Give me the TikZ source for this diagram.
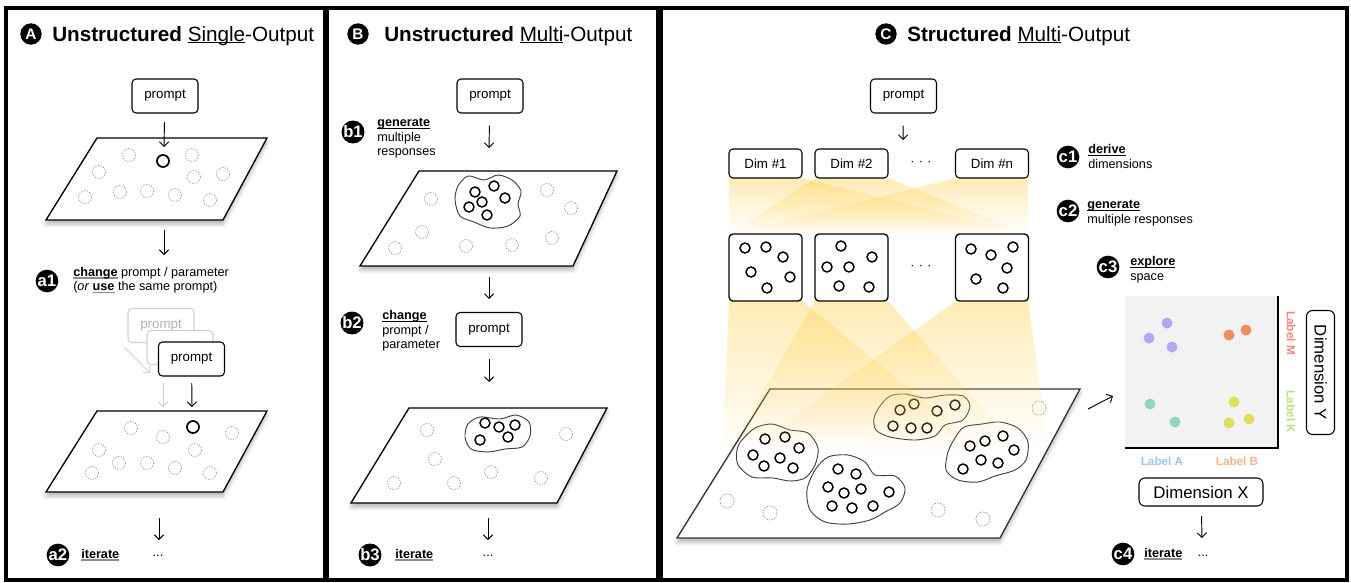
\documentclass[tikz,border=0pt]{standalone}
\usepackage{fontspec}
\setmainfont{Liberation Sans}
\usetikzlibrary{arrows.meta}
\usetikzlibrary{shadows.blur}
\usetikzlibrary{fadings}

\definecolor{beam}{HTML}{FFD45C}
\definecolor{chartbg}{HTML}{F2F2F2}
\definecolor{dotpurple}{HTML}{B5A6F4}
\definecolor{dotorange}{HTML}{EE8D5E}
\definecolor{dotteal}{HTML}{8ED6C3}
\definecolor{dotlime}{HTML}{DCE05B}
\definecolor{labM}{HTML}{F4857E}
\definecolor{labK}{HTML}{B8E07C}
\definecolor{labA}{HTML}{9CC4F0}
\definecolor{labB}{HTML}{F8B48D}

\tikzfading[name=fadedown,top color=transparent!0,bottom color=transparent!100]

\newsavebox{\ulbox}
\newcommand{\ulk}[1]{\sbox{\ulbox}{#1}\rlap{\rule[-1.6pt]{\wd\ulbox}{0.6pt}}\usebox{\ulbox}}
\newcommand{\ulb}[1]{\ulk{\textbf{#1}}}
\newcommand{\ulg}[1]{\sbox{\ulbox}{\textbf{#1}}\rlap{\textcolor{black!45}{\rule[-1.9pt]{\wd\ulbox}{1.1pt}}}\usebox{\ulbox}}

\begin{document}
\begin{tikzpicture}[x=0.75pt,y=-0.75pt]
    \tikzstyle{panel}=[draw=black,line width=2.3pt]
    \tikzstyle{box}=[draw=black,line width=0.8pt,rounded corners=3pt,fill=white,inner sep=0pt,minimum width=49.5pt,minimum height=25.5pt,font=\fontsize{10}{12}\selectfont]
    \tikzstyle{fadebox}=[box,draw=black!18,text=black!30]
    \tikzstyle{dimbox}=[box,minimum width=54.75pt,minimum height=21.75pt]
    \tikzstyle{resbox}=[box,line width=1pt,minimum width=54.75pt,minimum height=50.25pt]
    \tikzstyle{axisbox}=[box,rounded corners=4.5pt,minimum width=93pt,minimum height=21pt,font=\fontsize{12.6}{14}\selectfont]
    \tikzstyle{badge}=[circle,fill=black,text=white,inner sep=0pt,minimum size=17pt,font=\bfseries\fontsize{12.5}{13}\selectfont]
    \tikzstyle{tbadge}=[badge,minimum size=16pt,font=\bfseries\fontsize{11.5}{12}\selectfont]
    \tikzstyle{headline}=[inner sep=0pt,font=\fontsize{15.5}{18}\selectfont]
    \tikzstyle{txt}=[inner sep=0pt,align=left,font=\fontsize{9.5}{10.9}\selectfont]
    \tikzstyle{lab}=[inner sep=0pt,font=\bfseries\fontsize{8.8}{10}\selectfont]
    \tikzstyle{arr}=[draw=black,line width=0.7pt,-{Straight Barb[length=3.5pt,width=7pt]}]
    \tikzstyle{fadearr}=[arr,draw=black!18]
    \tikzstyle{plane}=[draw=black,line width=1pt,fill=white,blur shadow={shadow xshift=0pt,shadow yshift=-3pt,shadow blur radius=3pt,shadow opacity=30}]
    \tikzstyle{ghost}=[draw=black!45,line width=0.5pt,dash pattern=on 1pt off 1pt]
    \tikzstyle{pick}=[draw=black,line width=1.3pt]
    \tikzstyle{resp}=[draw=black,line width=1.1pt]
    \tikzstyle{blob}=[draw=black!75,line width=0.7pt]
    \tikzstyle{ray}=[fill=beam,fill opacity=0.45,path fading=fadedown]

    \useasboundingbox (0,0) rectangle (1351,582);

    % panels
    \draw[panel] (6,8) rectangle (325,580);
    \draw[panel] (327,8) rectangle (658,580);
    \draw[panel] (661,8) rectangle (1347,580);

    % ---- A: unstructured single output
    \node[tbadge] (bA) at (31,34) {A};
    \node[headline,anchor=base west] (tA) at (52,41) {\textbf{Unstructured} \ulk{Single}-Output};

    \draw[plane] (97,138) -- (267,138) -- (223,220) -- (46,220) -- cycle;
    \draw[ghost] (129,155) circle (6.5) (192,155) circle (6.5) (99,172) circle (6.5)
        (194,177) circle (6.5) (223,174) circle (6.5) (85,197) circle (6.5)
        (120,192) circle (6.5) (147,191) circle (6.5) (175,195) circle (6.5) (210,200) circle (6.5);
    \draw[pick] (163,161) circle (6);

    \node[box] (pA1) at (165,96) {prompt};
    \coordinate (eA1) at (164,147);
    \path[arr,shorten <=6.5pt] (pA1) -- (eA1);

    \coordinate (sA2) at (164,230);
    \coordinate (eA2) at (164,255);
    \path[arr] (sA2) -- (eA2);

    \node[badge] (a1) at (47,281) {a1};
    \node[txt,anchor=west] (ta1) at (73,280) {\ulg{change} prompt / parameter\\(\textit{or} \ulg{use} the same prompt)};

    \node[fadebox] (pA2) at (161,325.5) {prompt};
    \node[fadebox] (pA3) at (180,347.5) {prompt};
    \node[box] (pA4) at (191.5,359) {prompt};
    \coordinate (fA1) at (124,347);
    \coordinate (fA2) at (150,373);
    \path[fadearr] (fA1) -- (fA2);
    \coordinate (fA3) at (163,383);
    \coordinate (fA4) at (163,407);
    \path[fadearr] (fA3) -- (fA4);
    \coordinate (eA3) at (192,407);
    \path[arr,shorten <=5pt] (pA4) -- (eA3);

    \draw[plane] (97,411) -- (267,411) -- (223,492) -- (46,492) -- cycle;
    \draw[ghost] (131,428) circle (6.5) (163,437) circle (6.5) (232,433) circle (6.5)
        (99,450) circle (6.5) (195,450) circle (6.5) (119,463) circle (6.5)
        (147,463) circle (6.5) (175,468) circle (6.5) (92,473) circle (6.5) (210,473) circle (6.5);
    \draw[pick] (193,427) circle (6);

    \coordinate (sA4) at (159,518);
    \coordinate (eA4) at (159,540);
    \path[arr] (sA4) -- (eA4);

    \node[badge] (a2) at (58,555) {a2};
    \node[txt,anchor=west] (ta2) at (81,555) {\ulg{iterate}};
    \node[txt] (da2) at (158,556) {...};

    % ---- B: unstructured multi output
    \node[tbadge] (bB) at (358,34) {B};
    \node[headline,anchor=base west] (tB) at (384,41) {\textbf{Unstructured} \ulk{Multi}-Output};

    \node[box] (pB1) at (490,96) {prompt};
    \coordinate (eB1) at (489,148);
    \path[arr,shorten <=9pt] (pB1) -- (eB1);

    \node[badge] (b1) at (353,132) {b1};
    \node[txt,anchor=west] (tb1) at (377,138.5) {\ulb{generate}\\multiple\\responses};

    \draw[plane] (419,171) -- (617,171) -- (573,266) -- (360,266) -- cycle;
    \draw[blob] plot[smooth cycle] coordinates {(458,186) (468,176) (484,180) (498,175) (512,180) (521,191) (518,204) (520,216) (508,226) (490,228) (474,222) (460,216) (455,200)};
    \draw[resp] (475,192) circle (5) (494,186) circle (5) (505,198) circle (5)
        (482,202) circle (5) (469,207) circle (5) (487,215) circle (5);
    \draw[ghost] (431,199) circle (6.5) (547,190) circle (6.5) (571,208) circle (6.5)
        (422,232) circle (6.5) (395,248) circle (6.5) (466,246) circle (6.5)
        (512,245) circle (6.5) (552,238) circle (6.5);

    \coordinate (sB2) at (489,277);
    \coordinate (eB2) at (489,299);
    \path[arr] (sB2) -- (eB2);

    \node[badge] (b2) at (352,323) {b2};
    \node[txt,anchor=west] (tb2) at (382,331) {\ulb{change}\\prompt /\\parameter};
    \node[box] (pB2) at (489,329.5) {prompt};
    \coordinate (eB3) at (489,382);
    \path[arr,shorten <=9pt] (pB2) -- (eB3);

    \draw[plane] (409,408) -- (607,408) -- (557,503) -- (351,503) -- cycle;
    \draw[blob] plot[smooth cycle] coordinates {(468,424) (480,417) (500,419) (516,415) (529,422) (530,436) (522,447) (505,449) (488,452) (471,449) (465,437)};
    \draw[resp] (485,423) circle (5) (499,427) circle (5) (515,425) circle (5)
        (480,440) circle (5) (508,437) circle (5);
    \draw[ghost] (427,430) circle (6.5) (566,434) circle (6.5) (435,459) circle (6.5)
        (491,472) circle (6.5) (454,483) circle (6.5) (394,483) circle (6.5) (541,478) circle (6.5);

    \coordinate (sB4) at (488,518);
    \coordinate (eB4) at (488,540);
    \path[arr] (sB4) -- (eB4);

    \node[badge] (b3) at (370,555) {b3};
    \node[txt,anchor=west] (tb3) at (395,555) {\ulg{iterate}};
    \node[txt] (db3) at (488,556) {...};

    % ---- C: structured multi output
    \node[tbadge] (bC) at (886,34) {C};
    \node[headline,anchor=base west] (tC) at (907,41) {\textbf{Structured} \ulk{Multi}-Output};

    \node[box] (pC) at (903.5,96) {prompt};
    \coordinate (eC1) at (903,140);
    \path[arr,shorten <=9pt] (pC) -- (eC1);

    \fill[ray] (729,178) -- (802,178) -- (1028,234) -- (729,234) -- cycle;
    \fill[ray] (815,178) -- (888,178) -- (1028,234) -- (729,234) -- cycle;
    \fill[ray] (956,178) -- (1028,178) -- (1028,234) -- (729,234) -- cycle;

    \node[dimbox] (d1) at (765.5,163.5) {Dim \#1};
    \node[dimbox] (d2) at (851.5,163.5) {Dim \#2};
    \node[dimbox] (dn) at (992,163.5) {Dim \#n};
    \node[txt] (dd) at (921,163) {·\,\,·\,\,·};

    \draw[plane,draw=black!80] (770,389) -- (1080,389) -- (1000,538) -- (677,538) -- cycle;
    \draw[blob] plot[smooth cycle] coordinates {(742,440) (755,428) (772,424) (790,430) (808,433) (818,448) (815,465) (805,478) (790,481) (773,478) (752,477) (738,465) (737,450)};
    \draw[blob] plot[smooth cycle] coordinates {(815,470) (828,457) (848,455) (865,462) (875,475) (895,476) (905,488) (900,503) (885,512) (870,520) (848,524) (825,522) (810,510) (807,490)};
    \draw[blob] plot[smooth cycle] coordinates {(880,406) (890,396) (905,394) (925,398) (945,395) (963,396) (970,406) (963,420) (945,425) (935,436) (915,440) (890,437) (876,430) (874,418)};
    \draw[blob] plot[smooth cycle] coordinates {(955,438) (964,427) (982,424) (1000,422) (1018,428) (1028,442) (1026,460) (1015,470) (995,476) (978,482) (958,480) (946,470) (948,452)};
    \draw[resp] (765,439) circle (5) (785,437) circle (5) (799,448) circle (5) (753,455) circle (5)
        (780,458) circle (5) (764,466) circle (5) (793,468) circle (5);
    \draw[resp] (838,469) circle (5) (856,474) circle (5) (828,487) circle (5) (844,493) circle (5)
        (861,489) circle (5) (889,492) circle (5) (832,506) circle (5) (852,508) circle (5) (873,506) circle (5);
    \draw[resp] (900,410) circle (5) (914,404) circle (5) (937,411) circle (5) (955,405) circle (5)
        (893,426) circle (5) (911,428) circle (5) (927,428) circle (5);
    \draw[resp] (970,446) circle (5) (985,441) circle (5) (1003,436) circle (5) (1014,450) circle (5)
        (981,460) circle (5) (998,463) circle (5) (963,469) circle (5);
    \draw[ghost] (727,501) circle (7) (770,513) circle (7) (938,510) circle (7)
        (983,519) circle (7) (1039,408) circle (7);

    \fill[ray] (729,301) -- (802,301) -- (990,455) -- (722,455) -- cycle;
    \fill[ray] (815,301) -- (888,301) -- (1010,440) -- (735,440) -- cycle;
    \fill[ray] (956,301) -- (1028,301) -- (1048,445) -- (760,440) -- cycle;

    \node[resbox] (r1) at (765.5,267.5) {};
    \node[resbox] (r2) at (851.5,267.5) {};
    \node[resbox] (rn) at (992,267.5) {};
    \node[txt] (rd) at (921,267) {·\,\,·\,\,·};
    \draw[resp] (745,248) circle (5) (766,247) circle (5) (783,257) circle (5)
        (751,272) circle (5) (790,277) circle (5) (767,288) circle (5);
    \draw[resp] (841,246) circle (5) (872,257) circle (5) (827,267) circle (5)
        (849,267) circle (5) (839,286) circle (5) (869,287) circle (5);
    \draw[resp] (971,249) circle (5) (991,255) circle (5) (1013,247) circle (5)
        (1007,268) circle (5) (976,279) circle (5) (1003,288) circle (5);

    \node[badge] (c1) at (1068,157) {c1};
    \node[txt,anchor=west] (tc1) at (1088,156.5) {\ulb{derive}\\dimensions};
    \node[badge] (c2) at (1068,211) {c2};
    \node[txt,anchor=west] (tc2) at (1087,213) {\ulb{generate}\\multiple responses};
    \node[badge] (c3) at (1108,267) {c3};
    \node[txt,anchor=west] (tc3) at (1130,269.5) {\ulb{explore}\\space};

    % explored space
    \coordinate (sC2) at (1088,409);
    \coordinate (eC2) at (1113,396);
    \path[arr] (sC2) -- (eC2);
    \fill[chartbg] (1125,296) rectangle (1278,448);
    \draw[line width=1.3pt] (1125,448) -- (1278,448) -- (1278,296);
    \fill[dotpurple] (1167,323) circle (5.5) (1149,338) circle (5.5) (1172,347) circle (5.5);
    \fill[dotorange] (1229,335) circle (5.5) (1246,330) circle (5.5);
    \fill[dotteal] (1150,404) circle (5.5) (1175,422) circle (5.5);
    \fill[dotlime] (1234,402) circle (5.5) (1249,419) circle (5.5) (1229,423) circle (5.5);

    \node[lab,text=labM,rotate=-90] (lM) at (1291,333) {Label M};
    \node[lab,text=labK,rotate=-90] (lK) at (1291,412) {Label K};
    \node[lab,text=labA] (lA) at (1162,461) {Label A};
    \node[lab,text=labB] (lB) at (1237,461) {Label B};
    \node[axisbox,rotate=-90] (dY) at (1320.5,372.5) {Dimension Y};
    \node[axisbox] (dX) at (1201,492) {Dimension X};

    \coordinate (eC3) at (1202,538);
    \path[arr,shorten <=7pt] (dX) -- (eC3);
    \node[badge] (c4) at (1123,554) {c4};
    \node[txt,anchor=west] (tc4) at (1144,554) {\ulg{iterate}};
    \node[txt] (dc4) at (1203,556) {...};
\end{tikzpicture}
\end{document}
